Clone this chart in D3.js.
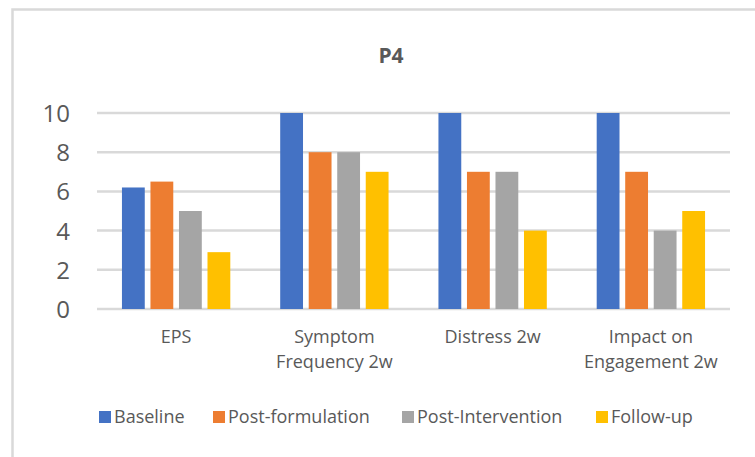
<!DOCTYPE html>
<html lang="en">
<head>
<script src="https://d3js.org/d3.v7.min.js"></script>
<style>
  body { margin: 0; background: #fff; }
  text { font-family: "Open Sans", "Noto Sans", sans-serif; fill: #595959; }
</style>
</head>
<body>
<div id="chart"></div>
<script>
// data
var categories = [["EPS"], ["Symptom", "Frequency 2w"], ["Distress 2w"], ["Impact on", "Engagement 2w"]];
var seriesNames = ["Baseline", "Post-formulation", "Post-Intervention", "Follow-up"];
var baseline = [6.2, 10, 10, 10];
var postFormulation = [6.5, 8, 7, 7];
var postIntervention = [5, 8, 7, 4];
var followUp = [2.9, 7, 4, 5];
var yTicks = [0, 2, 4, 6, 8, 10];
var colors = ["#4472c4", "#ed7d31", "#a5a5a5", "#ffc000"];

var W = 755, H = 457;
var plot = { left: 97, right: 730, top: 113, bottom: 309 };

var svg = d3.select("#chart").append("svg")
    .attr("width", W)
    .attr("height", H);

// chart frame (only top and left edges visible)
svg.append("rect")
    .attr("x", 12.5).attr("y", 9.5)
    .attr("width", 800).attr("height", 500)
    .attr("fill", "none")
    .attr("stroke", "#d9d9d9")
    .attr("stroke-width", 2.5);

svg.append("text")
    .attr("x", 391).attr("y", 63)
    .attr("text-anchor", "middle")
    .style("font-size", "21px")
    .style("font-weight", "bold")
    .text("P4");

var values = [baseline, postFormulation, postIntervention, followUp];
var catIdx = d3.range(categories.length);

var x0 = d3.scaleBand().domain(catIdx).range([plot.left, plot.right]);
var x1 = d3.scaleBand().domain(seriesNames)
    .range([0, x0.bandwidth()])
    .paddingInner(0.2).paddingOuter(0.875);
var y = d3.scaleLinear().domain([0, 10]).range([plot.bottom, plot.top]);

// gridlines
svg.append("g")
    .selectAll("line")
    .data(yTicks)
    .enter().append("line")
    .attr("x1", plot.left).attr("x2", plot.right)
    .attr("y1", function(d) { return y(d); })
    .attr("y2", function(d) { return y(d); })
    .attr("stroke", "#d9d9d9")
    .attr("stroke-width", 2.5);

// y axis labels
var yAxis = svg.append("g")
    .attr("transform", "translate(" + (plot.left - 27) + ",0)")
    .call(d3.axisLeft(y).tickValues(yTicks).tickSize(0).tickPadding(0));
yAxis.select(".domain").remove();
yAxis.selectAll("text")
    .attr("fill", "#595959")
    .style("font-size", "24px")
    .attr("dy", "0.35em");

// bars
var groups = svg.append("g")
    .selectAll("g")
    .data(seriesNames)
    .enter().append("g")
    .attr("fill", function(d, i) { return colors[i]; });

groups.selectAll("rect")
    .data(function(d, i) {
        return values[i].map(function(v, j) { return { s: d, c: j, v: v }; });
    })
    .enter().append("rect")
    .attr("x", function(d) { return x0(d.c) + x1(d.s); })
    .attr("width", x1.bandwidth())
    .attr("y", function(d) { return y(d.v); })
    .attr("height", function(d) { return y(0) - y(d.v); });

// category labels
var catLabels = svg.append("g")
    .selectAll("text")
    .data(categories)
    .enter().append("text")
    .attr("x", function(d, i) { return x0(i) + x0.bandwidth() / 2; })
    .attr("y", 343)
    .attr("text-anchor", "middle")
    .style("font-size", "18px");

catLabels.selectAll("tspan")
    .data(function(d) { return d; })
    .enter().append("tspan")
    .attr("x", function() { return d3.select(this.parentNode).attr("x"); })
    .attr("dy", function(d, i) { return i === 0 ? 0 : 25; })
    .text(function(d) { return d; });

// legend
var legendX = [99, 213, 402, 596];
var legend = svg.append("g")
    .selectAll("g")
    .data(seriesNames)
    .enter().append("g")
    .attr("transform", function(d, i) { return "translate(" + legendX[i] + ",417)"; });

legend.append("rect")
    .attr("x", 0).attr("y", -6)
    .attr("width", 12).attr("height", 12)
    .attr("fill", function(d, i) { return colors[i]; });

legend.append("text")
    .attr("x", 15)
    .attr("dy", "0.35em")
    .style("font-size", "18px")
    .text(function(d) { return d; });
</script>
</body>
</html>
